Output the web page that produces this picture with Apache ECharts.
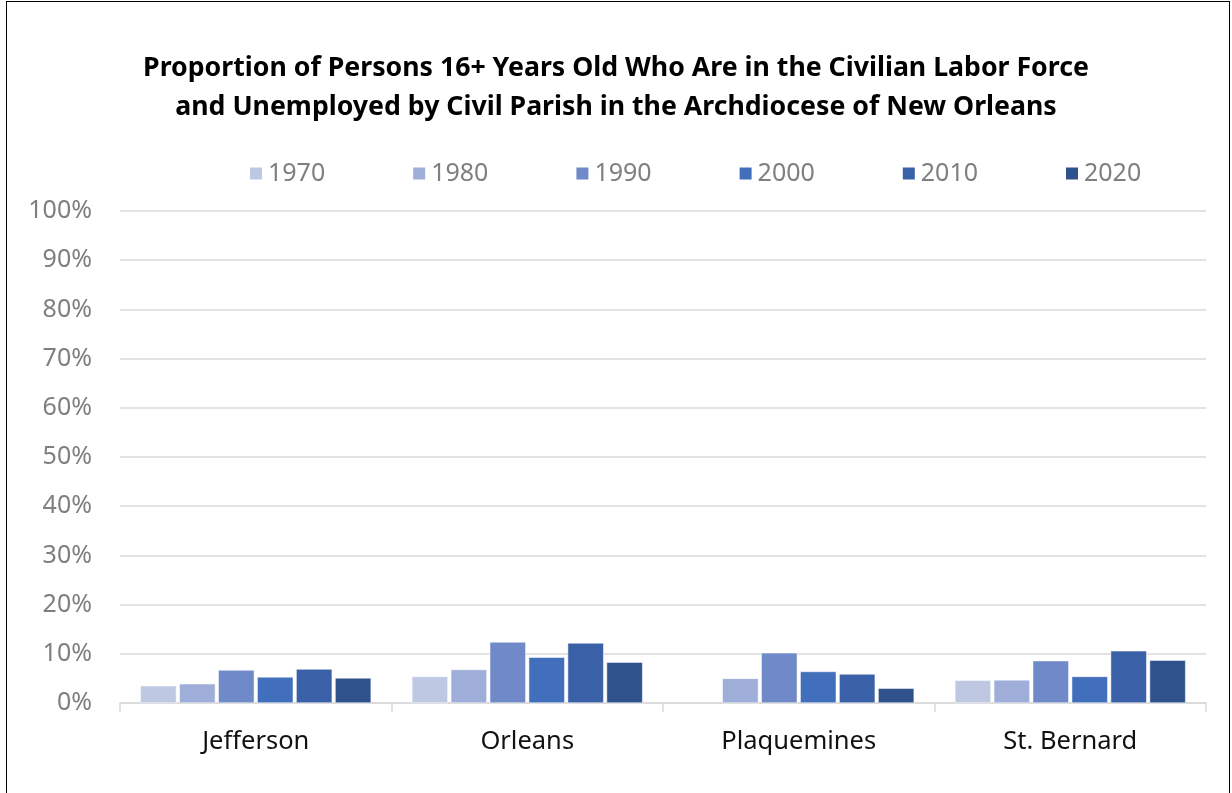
<!DOCTYPE html>
<html><head><meta charset="utf-8">
<script src="https://cdn.jsdelivr.net/npm/echarts@6/dist/echarts.min.js"></script>
<style>
html,body{margin:0;padding:0;background:#fff;}
#frame{position:absolute;left:6px;top:1px;width:1224px;height:800px;border:1.5px solid #000;box-sizing:border-box;}
#c{position:absolute;left:0;top:0;width:1232px;height:793px;}
</style></head>
<body><div id="frame"></div><div id="c"></div>
<script>
const categories = ['Jefferson', 'Orleans', 'Plaquemines', 'St. Bernard'];
const years = ['1970', '1980', '1990', '2000', '2010', '2020'];
const v1970 = [3.5, 5.4, null, 4.6];
const v1980 = [3.9, 6.8, 5.0, 4.7];
const v1990 = [6.7, 12.4, 10.2, 8.6];
const v2000 = [5.3, 9.3, 6.4, 5.4];
const v2010 = [6.9, 12.2, 5.9, 10.6];
const v2020 = [5.1, 8.3, 3.0, 8.7];
const yTicks = [0, 10, 20, 30, 40, 50, 60, 70, 80, 90, 100];
const colors = ['#bec8e3', '#9eaed8', '#6f89c9', '#416fbb', '#3a60a7', '#30528c'];
const values = [v1970, v1980, v1990, v2000, v2010, v2020];

const chart = echarts.init(document.getElementById('c'), null, {renderer: 'canvas'});
const font = '"Noto Sans", "Open Sans", sans-serif';
chart.setOption({
  backgroundColor: 'transparent',
  animation: false,
  textStyle: {fontFamily: font},
  title: {
    text: 'Proportion of Persons 16+ Years Old Who Are in the Civilian Labor Force\nand Unemployed by Civil Parish in the Archdiocese of New Orleans',
    left: 611, top: 44, textAlign: 'center',
    textStyle: {fontFamily: font, fontWeight: 'bold', fontSize: 26.7, color: '#000', lineHeight: 39}
  },
  legend: {
    left: 243, top: 156,
    itemWidth: 14, itemHeight: 14, itemGap: 86,
    icon: 'rect',
    data: years,
    textStyle: {fontFamily: font, fontSize: 25, color: '#7f7f7f'}
  },
  grid: {left: 120, right: 26, top: 211, bottom: 90, containLabel: false},
  xAxis: {
    type: 'category', data: categories,
    axisLine: {lineStyle: {color: '#d9d9d9', width: 1.5}},
    axisTick: {show: true, length: 9, lineStyle: {color: '#d9d9d9', width: 1.5}},
    axisLabel: {fontFamily: font, fontSize: 25.5, color: '#111', margin: 26}
  },
  yAxis: {
    type: 'value', min: 0, max: 100, interval: 10,
    axisLine: {show: false}, axisTick: {show: false},
    splitLine: {lineStyle: {color: '#d9d9d9', width: 1.5}},
    axisLabel: {fontFamily: font, fontSize: 25, color: '#7f7f7f', margin: 28,
      formatter: v => yTicks.includes(v) ? v + '%' : ''}
  },
  series: years.map((y, i) => ({
    name: y, type: 'bar', data: values[i],
    barGap: '8%', barCategoryGap: '15%',
    itemStyle: {color: colors[i], borderColor: '#ffffff', borderWidth: 0.5}
  }))
});
</script></body></html>
